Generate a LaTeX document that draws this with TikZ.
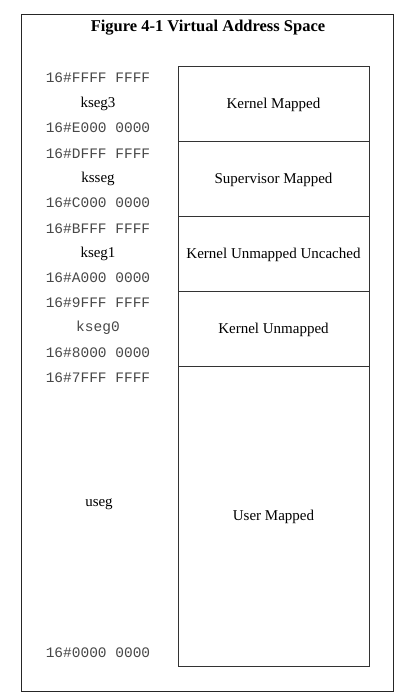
\documentclass[tikz,border=0pt]{standalone}
\usepackage{fontspec}
\setmainfont{Liberation Serif}
\setmonofont{Liberation Mono}
\begin{document}
\begin{tikzpicture}[x=1pt,y=-1pt,
  addr/.style={font=\fontsize{14.5}{16}\selectfont\ttfamily, text=black!72, inner sep=0pt, anchor=center},
  seg/.style={font=\fontsize{15}{17}\selectfont, inner sep=0pt, anchor=center},
  region/.style={draw=black!80, line width=0.9pt},
  lbl/.style={font=\fontsize{15}{17}\selectfont, inner sep=0pt, anchor=center}]
\useasboundingbox (0,0) rectangle (402,700);
\draw[line width=1pt, draw=black!85] (21,15) rectangle (393,691);
\node[font=\fontsize{16.5}{19}\selectfont\bfseries, inner sep=0pt] (title) at (208,27.5) {Figure 4-1 Virtual Address Space};
% regions
\node[region, minimum width=191pt, minimum height=75pt, inner sep=0pt] (r3) at (273.5,104) {};
\node[region, minimum width=191pt, minimum height=75pt, inner sep=0pt] (rs) at (273.5,179) {};
\node[region, minimum width=191pt, minimum height=75pt, inner sep=0pt] (r1) at (273.5,254) {};
\node[region, minimum width=191pt, minimum height=75pt, inner sep=0pt] (r0) at (273.5,329) {};
\node[region, minimum width=191pt, minimum height=300pt, inner sep=0pt] (ru) at (273.5,516) {};
\node[lbl] (l3) at ([yshift=-1pt]r3.center) {Kernel Mapped};
\node[lbl] (ls) at ([yshift=-1pt]rs.center) {Supervisor Mapped};
\node[lbl] (l1) at ([yshift=-1pt]r1.center) {Kernel Unmapped Uncached};
\node[lbl] (l0) at ([yshift=-1pt]r0.center) {Kernel Unmapped};
\node[lbl] (lu) at ([yshift=-1pt]ru.center) {User Mapped};
% addresses
\node[addr] (a1) at (98,78) {16\#FFFF FFFF};
\node[seg] (s3) at (98,104) {kseg3};
\node[addr] (a2) at (98,128) {16\#E000 0000};
\node[addr] (a3) at (98,154) {16\#DFFF FFFF};
\node[seg] (ss) at (98,179) {ksseg};
\node[addr] (a4) at (98,203) {16\#C000 0000};
\node[addr] (a5) at (98,229) {16\#BFFF FFFF};
\node[seg] (s1) at (98,254) {kseg1};
\node[addr] (a6) at (98,278) {16\#A000 0000};
\node[addr] (a7) at (98,303) {16\#9FFF FFFF};
\node[addr] (s0) at (98,328) {kseg0};
\node[addr] (a8) at (98,353) {16\#8000 0000};
\node[addr] (a9) at (98,378) {16\#7FFF FFFF};
\node[seg] (su) at (99,504) {useg};
\node[addr] (a10) at (98,653) {16\#0000 0000};
\end{tikzpicture}
\end{document}
